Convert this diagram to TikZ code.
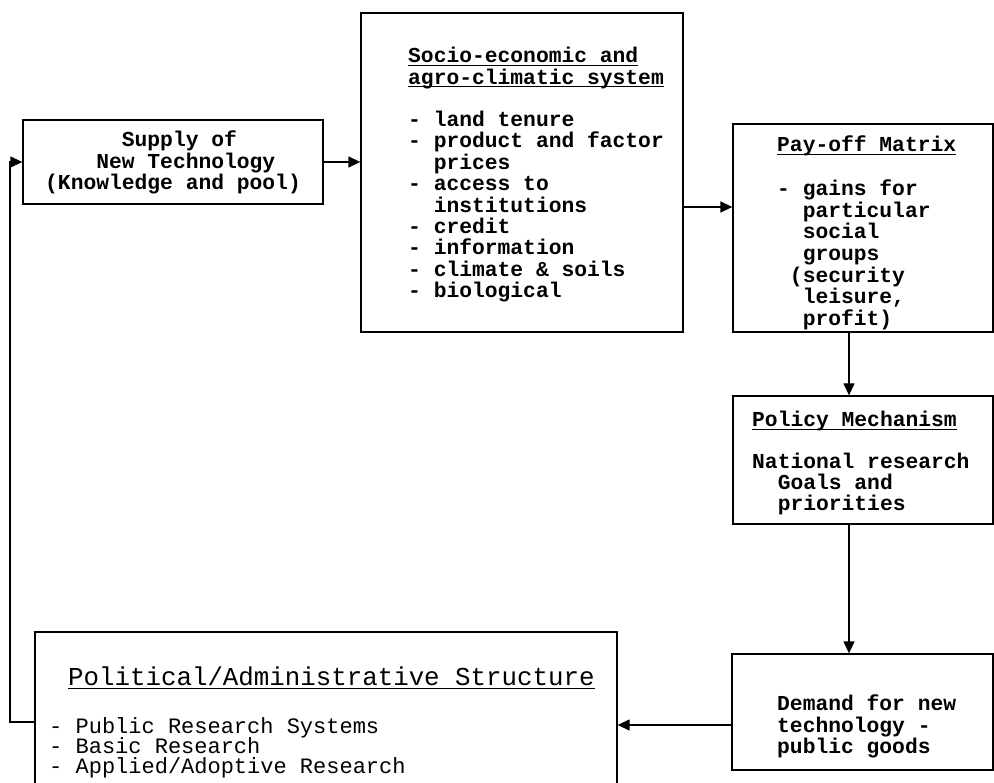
\documentclass[tikz,border=0pt]{standalone}
\usepackage{fontspec}
\setmainfont{Liberation Mono}
\usetikzlibrary{arrows.meta}
\newcommand\myul[1]{\setbox0\hbox{#1}\rlap{\rule[-3pt]{\wd0}{1.1pt}}\box0}
\newcommand\ind[1]{\hspace*{#1\fontcharwd\font`\0}}
\newcommand\tls{\lineskiplimit=-100pt\relax\frenchspacing}
\begin{document}
\begin{tikzpicture}[x=1pt,y=-1pt,
  box/.style={draw, line width=1.3pt, inner sep=0pt},
  txt/.style={inner sep=0pt, align=left, anchor=north west},
  mono/.style={font=\bfseries\fontsize{21.3}{21.4}\selectfont\tls},
  conn/.style={line width=1.3pt, -{Triangle[length=12pt,width=11pt]}}]
\useasboundingbox (0,0) rectangle (994,783);

% boxes
\node[box, minimum width=300pt, minimum height=84pt] (supply) at (173,162) {};
\node[box, minimum width=322pt, minimum height=319pt] (socio) at (522,172.5) {};
\node[box, minimum width=260pt, minimum height=208pt] (payoff) at (863,228) {};
\node[box, minimum width=260pt, minimum height=128pt] (policy) at (863,460) {};
\node[box, minimum width=261pt, minimum height=116pt] (demand) at (862.5,712) {};
\node[box, minimum width=582pt, minimum height=168pt] (political) at (326,716) {};

% texts
\node[txt, mono] (supplytxt) at (45,131)
  {\ind{6}Supply of\\\ind{4}New Technology\\(Knowledge and pool)};
\node[txt, mono] (sociotxt) at (408,47)
  {\myul{Socio-economic and}\\\myul{agro-climatic system}\\[21pt]
   - land tenure\\- product and factor\\\ind{2}prices\\- access to\\
   \ind{2}institutions\\- credit\\- information\\- climate \& soils\\- biological};
\node[txt, font=\bfseries\fontsize{21.3}{21.7}\selectfont\tls] (payofftxt) at (777,136)
  {\myul{Pay-off Matrix}\\[21.7pt]- gains for\\\ind{2}particular\\\ind{2}social\\
   \ind{2}groups\\\ind{1}(security\\\ind{2}leisure,\\\ind{2}profit)};
\node[txt, mono] (policytxt) at (752,411)
  {\myul{Policy Mechanism}\\[20pt]National research\\\ind{2}Goals and\\\ind{2}priorities};
\node[txt, mono] (demandtxt) at (777,695)
  {Demand for new\\technology -\\public goods};
\node[txt, font=\fontsize{25.8}{25.8}\selectfont] (poltitle) at (68,667)
  {\myul{Political/Administrative Structure}};
\node[txt, font=\fontsize{22}{20.4}\selectfont\tls] (politems) at (49,717)
  {- Public Research Systems\\- Basic Research\\- Applied/Adoptive Research};

% helper coordinates
\coordinate (ya) at (0,207);
\coordinate (yb) at (0,725);
\coordinate (yc) at (0,722);
\coordinate (xa) at (849,0);
\coordinate (ret) at (10,722);

% connectors
\draw[conn] (supply.east) -- (socio.west |- supply.east);
\draw[conn] (socio.east |- ya) -- (payoff.west |- ya);
\draw[conn] (payoff.south -| xa) -- (policy.north -| xa);
\draw[conn] (policy.south -| xa) -- (demand.north -| xa);
\draw[conn] (demand.west |- yb) -- (political.east |- yb);
\draw[conn] (political.west |- yc) -- (ret) |- (supply.west);
\end{tikzpicture}
\end{document}
